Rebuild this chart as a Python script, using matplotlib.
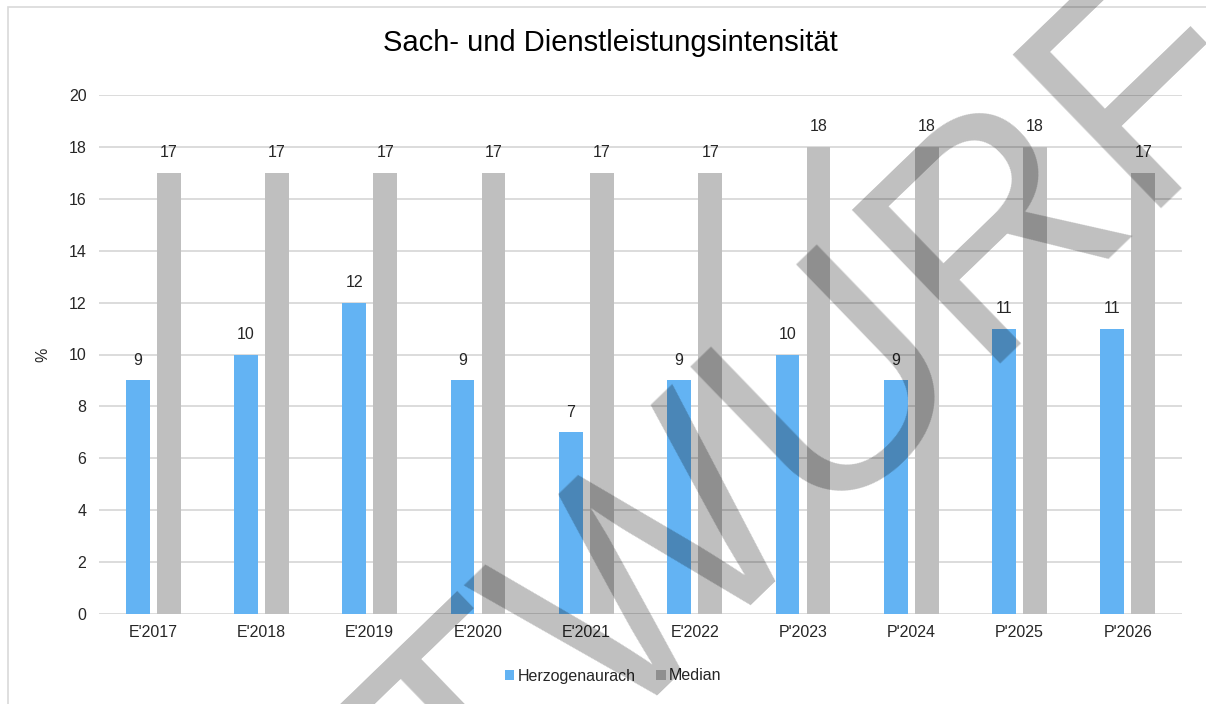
import numpy as np
import matplotlib
matplotlib.use('Agg')
import matplotlib.pyplot as plt
from matplotlib.patches import Rectangle

plt.rcParams['font.family'] = ['Liberation Sans', 'DejaVu Sans']

# data
categories = ["E'2017", "E'2018", "E'2019", "E'2020", "E'2021", "E'2022",
              "P'2023", "P'2024", "P'2025", "P'2026"]
herzogenaurach = [9, 10, 12, 9, 7, 9, 10, 9, 11, 11]
median = [17, 17, 17, 17, 17, 17, 18, 18, 18, 17]

W, H = 1206, 704
fig = plt.figure(figsize=(W / 100, H / 100), dpi=100)

# chart area frame (only left/top visible in the crop)
fig.patches.append(Rectangle((8 / W, -0.1), 1.2, 1 - 7 / H + 0.1, transform=fig.transFigure,
                             fill=False, edgecolor='#d9d9d9', linewidth=1.2))

ax = fig.add_axes([99 / W, 1 - 614.3 / H, (1182 - 99) / W, (614.3 - 94.7) / H])

x = np.arange(len(categories))
bw = 0.22
off = 0.143
b1 = ax.bar(x - off, herzogenaurach, bw, color='#63b3f3', label='Herzogenaurach', zorder=3)
b2 = ax.bar(x + off, median, bw, color='#bfbfbf', label='Median', zorder=3)

for bars in (b1, b2):
    for rect in bars:
        ax.annotate(f'{rect.get_height():.0f}',
                    (rect.get_x() + rect.get_width() / 2, rect.get_height()),
                    xytext=(0, 14.5), textcoords='offset points',
                    ha='center', va='center', fontsize=11.5, color='#262626')

ax.set_xlim(-0.5, len(categories) - 0.5)
ax.set_ylim(0, 20)
ax.set_yticks(range(0, 21, 2))
ax.set_xticks(x)
ax.set_xticklabels(categories)
ax.tick_params(axis='both', length=0, labelsize=11.5, labelcolor='#262626')
ax.tick_params(axis='y', pad=9)
ax.tick_params(axis='x', pad=8)
ax.grid(axis='y', color='#d9d9d9', linewidth=1.3, zorder=0)
for s in ax.spines.values():
    s.set_visible(False)
ax.set_axisbelow(True)
ax.set_ylabel('%', fontsize=11.5, color='#262626')
ax.yaxis.set_label_coords(-(99 - 50) / (1182 - 99), 0.5)

fig.text(610 / W, 1 - 43 / H, 'Sach- und Dienstleistungsintensität',
         ha='center', va='center', fontsize=21, color='#000000')

fig.legend(handles=[b1, b2], loc='center', bbox_to_anchor=(613 / W, 1 - 676 / H),
           ncol=2, frameon=False, fontsize=11.5, handlelength=0.6, handleheight=0.6,
           handletextpad=0.2, columnspacing=1.3, labelcolor='#262626')

# draft watermark
fig.text(716 / W, 1 - 614 / H, 'ENTWURF', rotation=44, rotation_mode='anchor',
         ha='center', va='baseline', fontsize=223, color='black', alpha=0.25, zorder=10)

fig.savefig('out.png', dpi=100)
